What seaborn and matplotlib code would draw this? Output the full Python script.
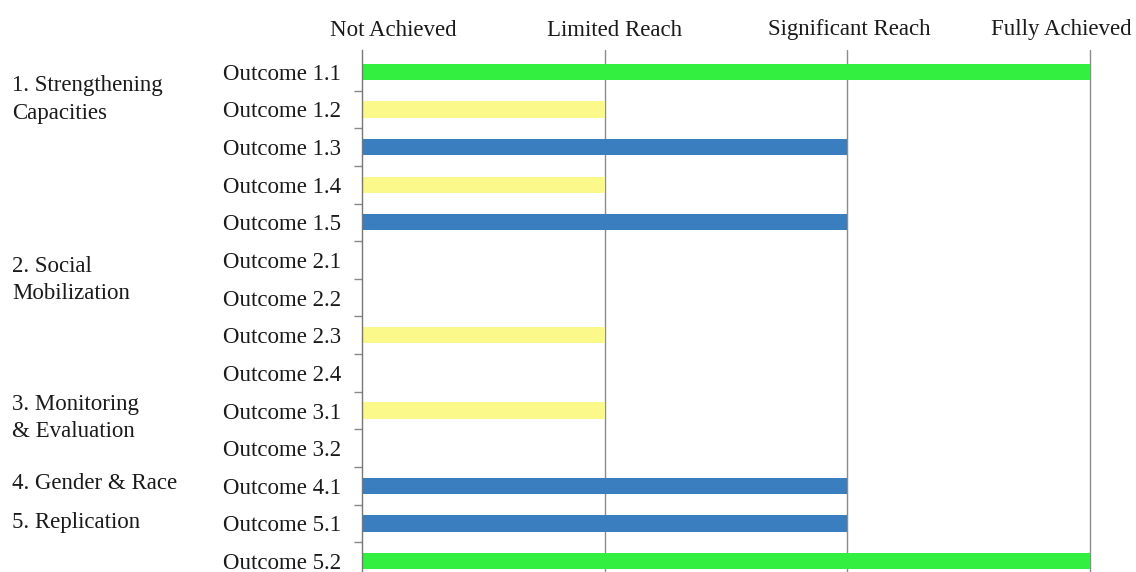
import matplotlib
matplotlib.use("Agg")
import matplotlib.pyplot as plt
import seaborn as sns
import pandas as pd
from matplotlib.ticker import FixedLocator

# Outcome rows, top to bottom
outcomes = ["Outcome 1.1", "Outcome 1.2", "Outcome 1.3", "Outcome 1.4", "Outcome 1.5",
            "Outcome 2.1", "Outcome 2.2", "Outcome 2.3", "Outcome 2.4",
            "Outcome 3.1", "Outcome 3.2", "Outcome 4.1", "Outcome 5.1", "Outcome 5.2"]
# Achievement level: 0 = Not Achieved, 1 = Limited, 2 = Significant, 3 = Fully Achieved
levels = [3, 1, 2, 1, 2, 0, 0, 1, 0, 1, 0, 2, 2, 3]
scale_labels = ["Not Achieved", "Limited Reach", "Significant Reach", "Fully Achieved"]
# Thematic areas and the outcome row each label sits beside
areas = ["1. Strengthening\nCapacities", "2. Social\nMobilization",
         "3. Monitoring\n& Evaluation", "4. Gender & Race", "5. Replication"]
area_rows = [0.74, 5.53, 9.2, 10.95, 11.97]

level_colors = {0: "#ffffff", 1: "#fbf98a", 2: "#3a7ec0", 3: "#33f040"}

sns.set_theme(style="white")
plt.rcParams["font.family"] = ["Liberation Serif", "DejaVu Serif"]
text_color = "#1a1a1a"
fs = 16.5

df = pd.DataFrame({"outcome": outcomes, "level": levels})

fig = plt.figure(figsize=(11.36, 5.72), dpi=100)
ax = fig.add_axes([362 / 1136, 0.0, (1090 - 362) / 1136, 522 / 572])

sns.barplot(data=df, x="level", y="outcome", hue="outcome",
            palette=[level_colors[v] for v in levels], orient="h",
            width=0.43, dodge=False, legend=False, ax=ax, saturation=1,
            edgecolor="none", linewidth=0)

ax.set_xlim(0, 3)
ax.set_ylim(13.29, -0.58)

# vertical reference lines at each scale step
for xv in (1, 2, 3):
    ax.axvline(xv, color="#8c8c8c", linewidth=1.0, zorder=0, clip_on=False)

for side in ("top", "right", "bottom"):
    ax.spines[side].set_visible(False)
ax.spines["left"].set_color("#777777")
ax.spines["left"].set_linewidth(1.0)

ax.set_xticks([])
ax.set_xlabel("")
ax.set_ylabel("")
ax.tick_params(axis="y", which="major", length=0, pad=15, labelsize=fs,
               labelcolor=text_color)
ax.yaxis.set_minor_locator(FixedLocator([i + 0.5 for i in range(len(outcomes) - 1)]))
ax.tick_params(axis="y", which="minor", left=True, length=6, width=1,
               color="#888888", direction="out")

# scale headings above the plot
for xpos, lab in zip([0.13, 1.04, 2.01, 2.88], scale_labels):
    ax.text(xpos, 1.0 + 20 / 522, lab, transform=ax.get_xaxis_transform(),
            ha="center", va="center", fontsize=fs, color=text_color, clip_on=False)

# thematic area labels on the far left
for lab, row in zip(areas, area_rows):
    ax.text(12 / 1136, row, lab,
            transform=matplotlib.transforms.blended_transform_factory(fig.transFigure, ax.transData),
            ha="left", va="center", fontsize=fs, color=text_color, linespacing=1.4)

fig.savefig("out.png", dpi=100)
